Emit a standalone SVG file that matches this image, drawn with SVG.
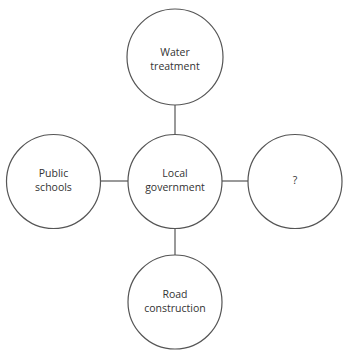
<svg xmlns="http://www.w3.org/2000/svg" width="348" height="355" viewBox="0 0 348 355">
<style>
circle{fill:#fff;stroke:#555;stroke-width:1.2}
line{stroke:#555;stroke-width:1.2}
text{font-family:"Open Sans","Liberation Sans",sans-serif;font-size:10.5px;fill:#333;text-anchor:middle}
</style>
<rect width="348" height="355" fill="#fff"/>
<g id="connectors">
<line x1="175" y1="105" x2="175" y2="135"/>
<line x1="175" y1="228" x2="175" y2="255"/>
<line x1="100" y1="181" x2="128" y2="181"/>
<line x1="222" y1="181" x2="248" y2="181"/>
</g>
<g id="water"><circle cx="175" cy="57" r="48"/><text x="175" y="56">Water</text><text x="175" y="70">treatment</text></g>
<g id="local"><circle cx="175" cy="181.5" r="47"/><text x="175" y="177">Local</text><text x="175" y="191">government</text></g>
<g id="schools"><circle cx="53.5" cy="181.5" r="47"/><text x="53.5" y="177">Public</text><text x="53.5" y="191">schools</text></g>
<g id="unknown"><circle cx="295" cy="181.5" r="47"/><text x="295" y="184">?</text></g>
<g id="road"><circle cx="175" cy="302" r="47"/><text x="175" y="298">Road</text><text x="175" y="312">construction</text></g>
</svg>
